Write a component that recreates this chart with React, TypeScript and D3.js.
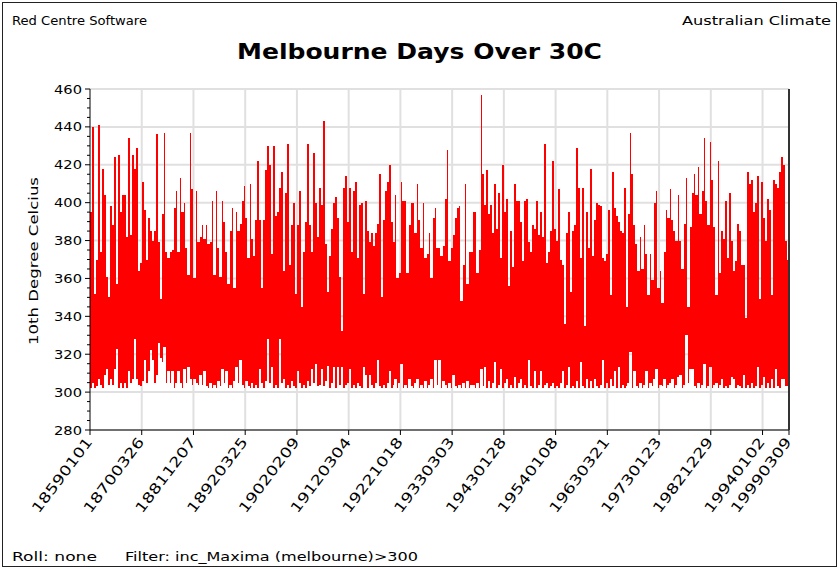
import * as d3 from 'd3';
import React from 'react';

const width = 839;
const height = 569;
const plot = { left: 90, right: 789, top: 89, bottom: 430 };
const red = '#ff0000';
const gridColor = '#e0e0e0';
const font = '"DejaVu Sans", Verdana, sans-serif';

// y axis (10th degree Celsius)
const yTicks = [280, 300, 320, 340, 360, 380, 400, 420, 440, 460];

// category axis: every 260th record is labelled, plus the last one
const xTickLabels = [
  '18590101', '18700326', '18811207', '18920325', '19020209', '19120304', '19221018',
  '19330303', '19430128', '19540108', '19630321', '19730123', '19821229', '19940102', '19990309'
];
const recordsPerLabel = 260;
const recordCount = 3514;

// peak of each ~2px column left to right
const highs = [
  395, 440, 352, 370, 441, 374, 418, 404, 361, 350, 398, 388, 424, 357, 425, 395, 404, 404, 382, 434,
  383, 425, 418, 429, 364, 368, 411, 396, 370, 392, 385, 380, 385, 436, 379, 349, 394, 437, 374, 371,
  374, 375, 397, 406, 374, 413, 395, 400, 376, 362, 437, 407, 360, 406, 379, 382, 388,
  381, 388, 378, 379, 401, 362, 406, 376, 361, 401, 390, 374, 357, 385, 397, 355, 395, 385, 389, 401,
  409, 392, 371, 410, 381, 372, 391, 422, 391, 355, 391, 417, 430, 420, 373, 430, 393, 395, 408, 416,
  364, 405, 431, 367, 388, 400, 352, 388, 406, 345, 374, 390, 431, 388, 374, 426, 400, 382, 408,
  399, 443, 378, 353, 372, 386, 400, 403, 392, 361, 332, 408, 414, 390, 408, 374, 406, 411, 371, 399,
  400, 352, 401, 385, 379, 384, 377, 384, 389, 415, 350, 391, 406, 411, 420, 390, 379, 404, 360, 363,
  411, 401, 401, 363, 388, 400, 400, 384, 410, 391, 376, 400, 371, 373, 384, 360, 392, 397, 376,
  376, 372, 377, 402, 428, 369, 376, 383, 392, 397, 398, 348, 367, 410, 357, 374, 374, 395, 395, 363,
  375, 457, 415, 399, 417, 394, 399, 384, 410, 386, 405, 371, 420, 395, 402, 356, 385, 366, 410, 401,
  401, 390, 369, 401, 402, 379, 374, 388, 386, 401, 383, 395, 382, 431, 368, 374, 385, 422, 386,
  380, 407, 370, 367, 336, 384, 395, 353, 385, 388, 429, 408, 371, 408, 335, 395, 376, 418, 372, 391,
  400, 399, 398, 371, 369, 373, 396, 351, 416, 397, 393, 390, 385, 384, 408, 345, 394, 437, 415, 388,
  378, 364, 382, 365, 388, 373, 351, 373, 359, 400, 406, 355, 364, 347, 374, 396, 392, 407,
  391, 385, 380, 404, 380, 365, 389, 413, 345, 387, 405, 415, 404, 419, 394, 406, 434, 401, 388, 432,
  412, 387, 351, 422, 363, 385, 381, 401, 371, 405, 380, 364, 369, 389, 385, 367, 367, 339, 416, 410,
  412, 395, 400, 414, 349, 411, 392, 380, 402, 396, 351, 412, 410, 408, 416, 424, 420, 380, 370
];

// trough of each column
const lows = [
  302, 305, 302, 303, 307, 304, 302, 309, 312, 304, 307, 304, 312, 323, 302, 305, 302, 305, 302, 311,
  305, 307, 328, 307, 304, 303, 306, 317, 305, 311, 322, 317, 305, 309, 326, 318, 316, 324, 305, 311,
  305, 311, 302, 305, 311, 305, 302, 312, 305, 313, 307, 304, 307, 305, 304, 309, 304,
  311, 303, 302, 305, 302, 304, 302, 306, 303, 312, 305, 311, 302, 304, 302, 306, 313, 305, 317, 304,
  302, 306, 303, 302, 305, 302, 304, 302, 312, 305, 302, 306, 328, 305, 313, 302, 304, 302, 328, 305,
  307, 302, 304, 302, 306, 303, 302, 311, 305, 302, 304, 302, 306, 303, 312, 305, 315, 303, 304,
  312, 303, 306, 314, 302, 305, 313, 302, 313, 304, 313, 302, 304, 305, 312, 302, 304, 302, 305, 303,
  302, 313, 309, 302, 309, 304, 302, 305, 317, 303, 302, 304, 302, 305, 311, 302, 304, 307, 302, 305,
  315, 302, 304, 302, 307, 303, 302, 305, 307, 302, 304, 302, 306, 302, 304, 307, 302, 317, 304,
  317, 302, 306, 304, 302, 305, 302, 309, 303, 302, 304, 302, 305, 302, 306, 302, 304, 304, 302, 305,
  302, 312, 303, 313, 302, 306, 302, 305, 316, 302, 304, 312, 302, 305, 307, 302, 304, 302, 308, 302,
  305, 307, 302, 304, 302, 317, 303, 302, 311, 302, 304, 311, 302, 304, 305, 302, 303, 305, 302,
  303, 302, 305, 311, 302, 304, 313, 302, 303, 302, 306, 302, 316, 303, 302, 307, 302, 306, 302, 307,
  303, 302, 304, 317, 302, 305, 302, 307, 303, 311, 302, 313, 302, 304, 302, 303, 305, 321, 302, 311,
  303, 302, 305, 302, 304, 311, 302, 305, 303, 307, 312, 302, 304, 303, 307, 302, 304, 305,
  307, 302, 304, 308, 309, 302, 304, 330, 305, 312, 312, 303, 302, 305, 302, 304, 315, 302, 303, 313,
  302, 304, 305, 302, 304, 307, 302, 303, 302, 304, 308, 307, 302, 304, 303, 302, 309, 302, 304, 302,
  305, 302, 303, 313, 302, 304, 308, 302, 305, 302, 307, 302, 312, 303, 302, 307, 307, 303, 303
];

export default function App() {
  const n = highs.length;
  const x = d3.scaleLinear().domain([0, n]).range([plot.left, plot.right]);
  const y = d3.scaleLinear().domain([280, 460]).range([plot.bottom, plot.top]);
  const xRec = d3.scaleLinear().domain([0, recordCount - 1]).range([plot.left, plot.right]);

  const xTicks = xTickLabels.map((label, i) => ({
    label,
    pos: xRec(i === xTickLabels.length - 1 ? recordCount - 1 : i * recordsPerLabel)
  }));
  const minorTicks = d3.range(280, 461, 5).filter(v => v % 20 !== 0);

  // fill between neighbouring columns where both overlap
  const joins = d3.range(-1, n).map(i => {
    const a = Math.max(i, 0);
    const b = Math.min(i + 1, n - 1);
    const x0 = i < 0 ? x(0) : x(i + 0.5);
    const x1 = i + 1 >= n ? x(n) : x(i + 1.5);
    const top = Math.min(highs[a], highs[b]);
    const bot = Math.max(lows[a], lows[b]);
    return { x0, x1, top, bot };
  });

  return (
    <svg width={width} height={height} style={{ position: 'absolute', left: 0, top: 0, background: '#fff' }}
      fontFamily={font}>
      <rect x={2.5} y={2.5} width={width - 5} height={height - 5} fill="#fff" stroke="#222" strokeWidth={1} />

      <text x={12} y={25} fontSize={12} textLength={135} lengthAdjust="spacingAndGlyphs">Red Centre Software</text>
      <text x={682} y={25} fontSize={12} textLength={149} lengthAdjust="spacingAndGlyphs">Australian Climate</text>
      <text x={237} y={59} fontSize={21} fontWeight="bold" textLength={365} lengthAdjust="spacingAndGlyphs">
        Melbourne Days Over 30C
      </text>

      {/* grid */}
      <g stroke={gridColor} strokeWidth={2}>
        {yTicks.map(v => (
          <line key={'gy' + v} x1={plot.left} x2={plot.right} y1={y(v)} y2={y(v)} />
        ))}
        {xTicks.slice(1, -1).map(t => (
          <line key={'gx' + t.label} x1={t.pos} x2={t.pos} y1={plot.top} y2={plot.bottom} />
        ))}
      </g>

      {/* data */}
      <g fill={red} shapeRendering="crispEdges">
        {joins.map((j, i) => (
          j.bot < j.top ? (
            <rect key={'j' + i} x={j.x0} width={j.x1 - j.x0} y={y(j.top)} height={y(j.bot) - y(j.top)} />
          ) : null
        ))}
        {highs.map((h, i) => (
          <rect key={'s' + i} x={x(i + 0.5) - 0.8} width={1.6} y={y(h)} height={y(lows[i]) - y(h)} />
        ))}
      </g>

      {/* axes */}
      <g stroke="#000" strokeWidth={1}>
        <line x1={plot.left} x2={plot.left} y1={plot.top} y2={plot.bottom} />
        <line x1={plot.left} x2={plot.right} y1={plot.bottom} y2={plot.bottom} />
        {yTicks.map(v => (
          <line key={'ty' + v} x1={plot.left - 5} x2={plot.left} y1={y(v)} y2={y(v)} />
        ))}
        {minorTicks.map(v => (
          <line key={'my' + v} x1={plot.left - 3} x2={plot.left} y1={y(v)} y2={y(v)} />
        ))}
        {xTicks.map(t => (
          <line key={'tx' + t.label} x1={t.pos} x2={t.pos} y1={plot.bottom} y2={plot.bottom + 5} />
        ))}
      </g>
      <line x1={plot.right} x2={plot.right} y1={plot.top} y2={plot.bottom} stroke="#333" strokeWidth={2} />

      <g fontSize={13} textAnchor="end">
        {yTicks.map(v => (
          <text key={'ly' + v} x={plot.left - 8} y={y(v)} dy="0.35em" textLength={28}
            lengthAdjust="spacingAndGlyphs">{v}</text>
        ))}
      </g>
      <g fontSize={14} textAnchor="end">
        {xTicks.map(t => (
          <text key={'lx' + t.label} transform={`translate(${t.pos + 3},${plot.bottom + 12}) rotate(-53)`}
            textLength={90} lengthAdjust="spacingAndGlyphs">{t.label}</text>
        ))}
      </g>

      <text transform={`translate(38,261) rotate(-90)`} fontSize={13} textAnchor="middle"
        textLength={168} lengthAdjust="spacingAndGlyphs">10th Degree Celcius</text>

      <text x={12} y={561} fontSize={12} textLength={85} lengthAdjust="spacingAndGlyphs">Roll: none</text>
      <text x={125} y={561} fontSize={12} textLength={293} lengthAdjust="spacingAndGlyphs">
        Filter: inc_Maxima (melbourne)&gt;300
      </text>
    </svg>
  );
}
